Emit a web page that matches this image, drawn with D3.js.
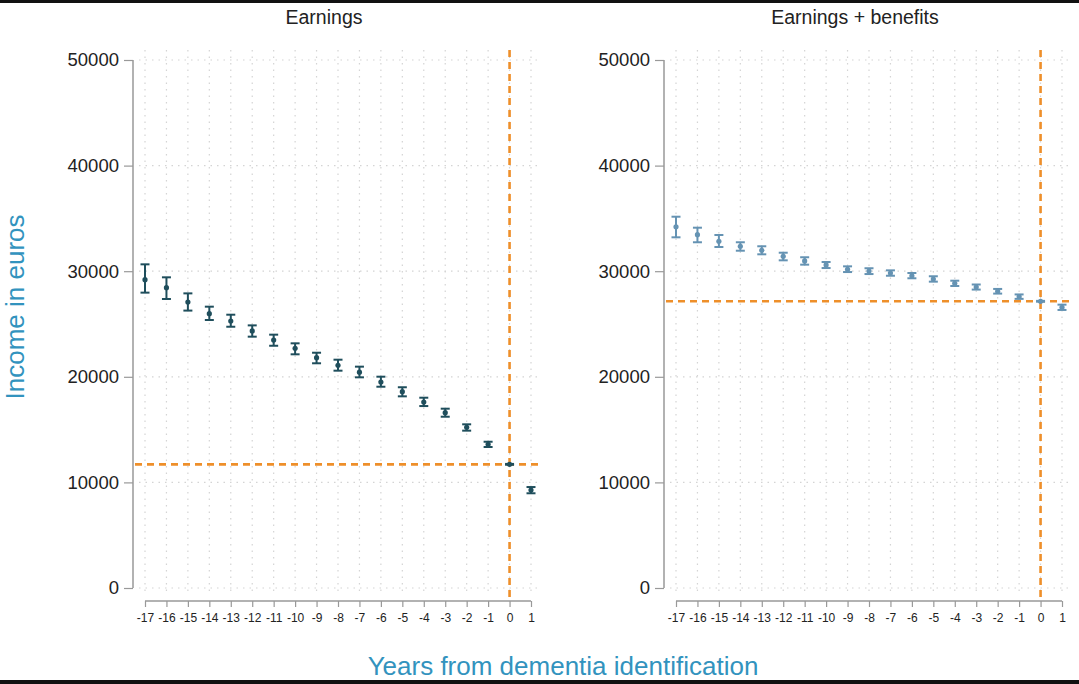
<!DOCTYPE html>
<html>
<head>
<meta charset="utf-8">
<script src="https://cdn.jsdelivr.net/npm/d3@7"></script>
<style>
  body { margin: 0; background: #fff; }
  svg { display: block; font-family: "Liberation Sans", Arial, sans-serif; }
</style>
</head>
<body>
<svg class="chart" width="1079" height="684"></svg>
<script>
// years relative to identification
const years = [-17, -16, -15, -14, -13, -12, -11, -10, -9, -8, -7, -6, -5, -4, -3, -2, -1, 0, 1];

// Earnings: point estimate and 95% CI
const earnMean = [29200, 28440, 27080, 25980, 25280, 24340, 23480, 22700, 21810, 21090, 20440, 19500, 18590, 17610, 16600, 15220, 13610, 11710, 9280];
const earnLo   = [27970, 27370, 26270, 25380, 24740, 23800, 22940, 22130, 21280, 20580, 19950, 19060, 18150, 17230, 16220, 14900, 13350, 11670, 8970];
const earnHi   = [30650, 29420, 27900, 26640, 25880, 24870, 23990, 23170, 22280, 21620, 20960, 20010, 19010, 18020, 16980, 15500, 13850, 11750, 9560];

// Earnings + benefits
const benMean = [34210, 33460, 32830, 32360, 31980, 31410, 30970, 30590, 30180, 30020, 29830, 29570, 29260, 28850, 28500, 28100, 27590, 27150, 26580];
const benLo   = [33210, 32740, 32290, 31940, 31600, 31030, 30620, 30300, 29920, 29730, 29570, 29330, 29010, 28600, 28260, 27880, 27380, 27110, 26330];
const benHi   = [35160, 34120, 33430, 32740, 32360, 31750, 31320, 30870, 30460, 30280, 30080, 29830, 29520, 29100, 28740, 28320, 27800, 27190, 26830];

const yTicks = [0, 10000, 20000, 30000, 40000, 50000];
const refYear = 0;

const svg = d3.select(".chart");

// screenshot frame bands
svg.append("rect").attr("x", 0).attr("y", 0).attr("width", 1079).attr("height", 3).attr("fill", "#111");
svg.append("rect").attr("x", 0).attr("y", 680).attr("width", 1079).attr("height", 4).attr("fill", "#111");

const y = d3.scaleLinear().domain([0, 50000]).range([588, 60]);

function drawPanel(opts) {
  const { title, x0, mean, lo, hi, color } = opts;
  const x = d3.scaleLinear().domain([-17, 1]).range([x0, x0 + 386]);
  const g = svg.append("g");
  const left = x0 - 6, right = x0 + 396;

  /*
        Grid
  */
  g.append("g")
    .selectAll("line")
    .data(yTicks)
    .join("line")
    .attr("x1", left).attr("x2", right)
    .attr("y1", (d) => y(d)).attr("y2", (d) => y(d))
    .attr("stroke", "#d4d4d4")
    .attr("stroke-width", 1.2)
    .attr("stroke-dasharray", "1.5,5");

  g.append("g")
    .selectAll("line")
    .data(years)
    .join("line")
    .attr("x1", (d) => x(d)).attr("x2", (d) => x(d))
    .attr("y1", 50).attr("y2", 596)
    .attr("stroke", "#d4d4d4")
    .attr("stroke-width", 1.2)
    .attr("stroke-dasharray", "1.5,5");

  /*
        Axes
  */
  const yAxis = g.append("g")
    .attr("transform", `translate(${x0 - 12},0)`)
    .call(d3.axisLeft(y).tickValues(yTicks).tickSize(9).tickPadding(5).tickFormat((d) => String(d)));
  yAxis.select(".domain").attr("stroke", "#999").attr("stroke-width", 1.5).attr("d", `M-0,${y(50000)}V${y(0)}`);
  yAxis.selectAll(".tick line").attr("stroke", "#999").attr("stroke-width", 1.2);
  yAxis.selectAll(".tick text").attr("fill", "#222").style("font-size", "18.5px");

  const xAxis = g.append("g")
    .attr("transform", "translate(0,601)")
    .call(d3.axisBottom(x).tickValues(years).tickSize(6).tickPadding(6).tickFormat((d) => String(d)));
  xAxis.select(".domain").attr("stroke", "#999").attr("stroke-width", 1.5).attr("d", `M${x(-17)},0H${x(1)}`);
  xAxis.selectAll(".tick line").attr("stroke", "#999").attr("stroke-width", 1.2);
  xAxis.selectAll(".tick text").attr("fill", "#222").style("font-size", "12px");

  /*
        Reference lines
  */
  const refVal = mean[years.indexOf(refYear)];
  g.append("line")
    .attr("x1", x(refYear)).attr("x2", x(refYear))
    .attr("y1", 50).attr("y2", 600)
    .attr("stroke", "#ee8f2a").attr("stroke-width", 2.6).attr("stroke-dasharray", "7,5");
  g.append("line")
    .attr("x1", x0 - 10).attr("x2", right + 2)
    .attr("y1", y(refVal)).attr("y2", y(refVal))
    .attr("stroke", "#ee8f2a").attr("stroke-width", 2.6).attr("stroke-dasharray", "7,5");

  /*
        Error bars
  */
  const rows = years.map((yr, i) => ({ yr, m: mean[i], lo: lo[i], hi: hi[i] }));
  const bars = g.append("g").selectAll("g").data(rows).join("g");
  bars.append("line")
    .attr("x1", (d) => x(d.yr)).attr("x2", (d) => x(d.yr))
    .attr("y1", (d) => y(d.lo)).attr("y2", (d) => y(d.hi))
    .attr("stroke", color).attr("stroke-width", 2);
  bars.selectAll(".cap")
    .data((d) => [{ yr: d.yr, v: d.lo }, { yr: d.yr, v: d.hi }])
    .join("line")
    .attr("class", "cap")
    .attr("x1", (d) => x(d.yr) - 4.5).attr("x2", (d) => x(d.yr) + 4.5)
    .attr("y1", (d) => y(d.v)).attr("y2", (d) => y(d.v))
    .attr("stroke", color).attr("stroke-width", 2);
  bars.append("circle")
    .attr("cx", (d) => x(d.yr)).attr("cy", (d) => y(d.m))
    .attr("r", 2.6)
    .attr("fill", color);

  svg.append("text")
    .attr("x", (x(-17) + x(1)) / 2 - 14)
    .attr("y", 24)
    .attr("text-anchor", "middle")
    .attr("fill", "#222")
    .style("font-size", "19.5px")
    .text(title);
}

drawPanel({ title: "Earnings", x0: 145, mean: earnMean, lo: earnLo, hi: earnHi, color: "#1f4e5c" });
drawPanel({ title: "Earnings + benefits", x0: 676, mean: benMean, lo: benLo, hi: benHi, color: "#6593b3" });

// axis titles
svg.append("text")
  .attr("x", 563).attr("y", 675)
  .attr("text-anchor", "middle")
  .attr("fill", "#3293be")
  .style("font-size", "26px")
  .text("Years from dementia identification");

svg.append("text")
  .attr("transform", "translate(24,307) rotate(-90)")
  .attr("text-anchor", "middle")
  .attr("fill", "#3293be")
  .style("font-size", "26px")
  .text("Income in euros");
</script>
</body>
</html>
